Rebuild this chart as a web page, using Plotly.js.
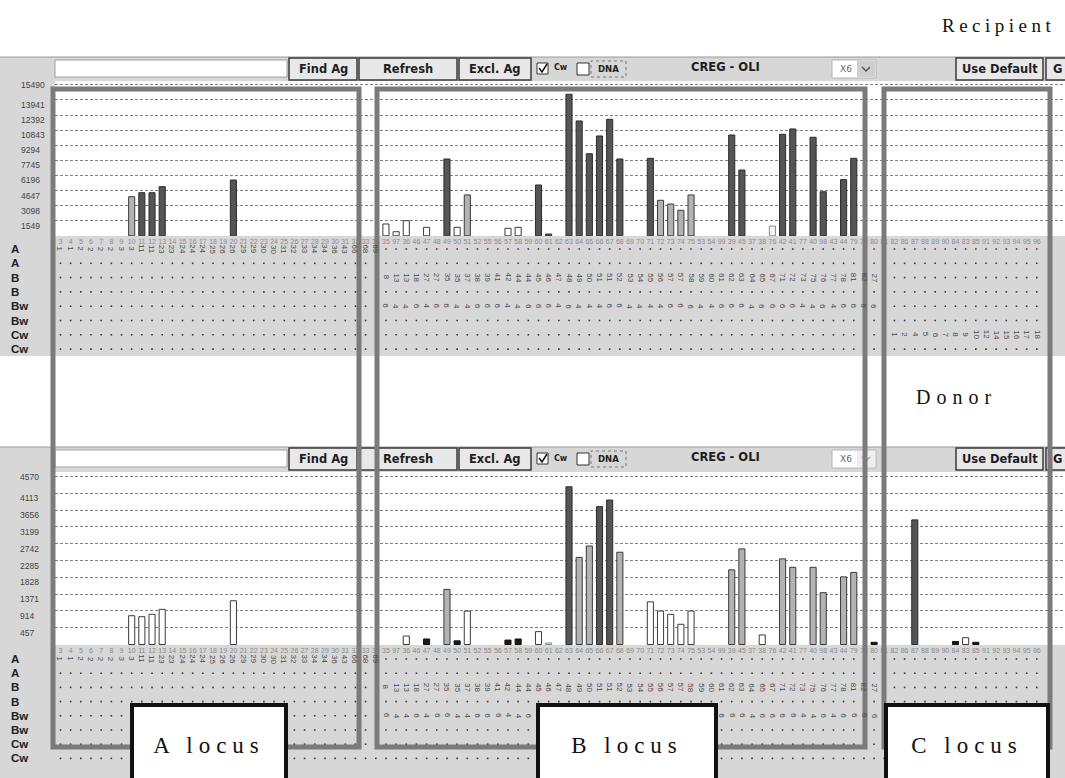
<!DOCTYPE html>
<html><head><meta charset="utf-8">
<script src="https://cdn.plot.ly/plotly-3.0.1.min.js"></script>
<style>html,body{margin:0;padding:0;background:#fff;}#chart{width:1065px;height:778px;}</style>
</head><body><div id="chart"></div>
<script>
// ---------------- DATA ----------------
const catsA = ["3","4","5","6","7","8","9","10","11","12","13","14","15","16","17","18","19","20","21","22","23","24","25","26","27","28","29","30","31","32","33","34"];
const catsB = ["35","97","36","46","47","48","49","50","51","52","55","56","57","58","59","60","61","62","63","64","65","66","67","68","69","70","71","72","73","74","75","53","54","99","39","45","37","38","76","42","41","77","40","98","43","44","79","78","80","81"];
const catsC = ["82","86","87","88","89","90","84","83","85","91","92","93","94","95","96"];
const categories = catsA.concat(catsB, catsC);

const recipientTicks = [1549,3098,4647,6196,7745,9294,10843,12392,13941,15490];
const donorTicks = [457,914,1371,1828,2285,2742,3199,3656,4113,4570];

const recipientAg = ["10","11","12","13","20","35","97","36","47","49","50","51","57","58","60","61","63","64","65","66","67","68","71","72","73","74","75","39","45","76","42","41","40","98","44","79"];
const recipientMFI = [4010,4420,4420,5040,5720,1210,420,1550,870,7880,870,4190,770,870,5210,180,14520,11780,8420,10240,11950,7880,7950,3640,3260,2620,4190,10340,6750,1000,10410,10960,10110,4520,5760,7950];
const recipientShade = ["light","dark","dark","dark","dark","open","open","open","open","dark","open","light","open","open","dark","dark","dark","dark","dark","dark","dark","dark","dark","light","light","light","light","dark","dark","faint","dark","dark","dark","dark","dark","dark"];

const donorAg = ["10","11","12","13","20","36","47","49","50","51","57","58","60","61","63","64","65","66","67","68","71","72","73","74","75","39","45","38","42","41","40","98","44","79","80","87","84","83","85"];
const donorMFI = [783,756,821,957,1190,230,150,1500,100,910,120,150,350,40,4290,2370,2680,3750,3930,2510,1160,910,820,550,910,2030,2600,260,2330,2100,2100,1410,1840,1960,60,3390,80,185,60];
const donorShade = ["open","open","open","open","open","open","black","light","black","open","black","black","open","faint","dark","light","light","dark","dark","light","open","open","open","open","open","light","light","open","light","light","light","light","light","light","black","dark","black","open","black"];

const tableRows = ["A","A","B","B","Bw","Bw","Cw","Cw"];
const aRowAg = ["1","1","2","2","2","2","3","3","11","11","23","23","24","24","24","25","26","26","29","29","30","30","31","32","33","34","34","36","43","66","68","69"];
const bRowAg = ["8","13","13","18","27","27","35","35","37","38","39","41","42","44","44","45","46","47","48","49","50","51","51","52","53","54","55","56","57","57","58","59","60","61","62","63","64","65","67","71","72","73","75","76","77","78","81","82","27"];
const bwRowAg = ["6","4","4","6","4","6","6","4","4","6","6","6","4","4","6","6","6","4","6","4","4","4","6","6","4","4","4","4","6","6","6","4","4","6","6","6","4","6","6","6","6","4","4","6","4","6","6","6","6"];
const cwRowAg = ["1","2","4","5","6","7","8","9","10","12","14","15","16","17","18"];

// ---------------- HELPERS ----------------
const W = 1065, H = 778;
const X = p => p / W;
const Y = p => 1 - p / H;
const fill = {dark:'#555555', light:'#b3b3b3', open:'#ffffff', black:'#1a1a1a', faint:'#f4f4f4'};
const edge = {dark:'#2c2c2c', light:'#3a3a3a', open:'#3a3a3a', black:'#111111', faint:'#8a8a8a'};
const rowText = [
  {row:0, cats:catsA, text:aRowAg},
  {row:2, cats:catsB.slice(0, bRowAg.length), text:bRowAg},
  {row:4, cats:catsB.slice(0, bwRowAg.length), text:bwRowAg},
  {row:6, cats:catsC, text:cwRowAg}
];

const shapes = [];
const annotations = [];
const rect = (x0,x1,y0,y1,fc,lc,lw,layer,dash) => shapes.push({type:'rect', xref:'paper', yref:'paper', x0:X(x0), x1:X(x1), y0:Y(y1), y1:Y(y0), fillcolor:fc, line:{color:lc||'rgba(0,0,0,0)', width:lw||0, dash:dash||'solid'}, layer:layer||'below'});
const txt = (x,y,t,opt) => annotations.push(Object.assign({xref:'paper', yref:'paper', x:X(x), y:Y(y), text:t, showarrow:false, xanchor:'center', yanchor:'middle', font:{family:'DejaVu Sans', size:12, color:'#222'}}, opt||{}));

// backgrounds
rect(0, W, 57, 356, '#d7d7d7');
rect(0, W, 447, 778, '#d7d7d7');
rect(55, W, 81, 236, '#ffffff');
rect(55, W, 472, 645, '#ffffff');

function toolbar(dy, disabled) {
  shapes.push({type:'line', xref:'paper', yref:'paper', x0:0, x1:1, y0:Y(57+dy), y1:Y(57+dy), line:{color:'#9a9a9a', width:1}, layer:'below'});
  rect(55, 287, 60+dy, 77+dy, '#ffffff', '#a0a0a0', 1);
  const btns = [[289,357,'Find Ag'],[359,457,'Refresh'],[459,531,'Excl. Ag'],[956,1043,'Use Default'],[1046,1080,'G']];
  btns.forEach(b => {
    rect(b[0], b[1], 58+dy, 80+dy, '#e8e8e8', '#3a3a3a', 1.5);
    txt(b[1] === 1080 ? 1057 : (b[0]+b[1])/2, 69+dy, '<b>'+b[2]+'</b>', {font:{family:'DejaVu Sans', size:11.5, color:'#1e1e1e'}});
  });
  rect(537, 548, 63+dy, 74+dy, '#ffffff', '#333', 1);
  shapes.push({type:'path', xref:'paper', yref:'paper', path:'M'+X(539)+','+Y(68+dy)+' L'+X(542)+','+Y(72+dy)+' L'+X(547)+','+Y(64+dy), line:{color:'#111', width:1.5}, layer:'below'});
  txt(552, 68+dy, '<b>Cw</b>', {xanchor:'left', font:{family:'DejaVu Sans', size:8, color:'#222'}});
  rect(577, 589, 63+dy, 75+dy, '#ffffff', '#333', 1);
  rect(591, 626, 61+dy, 77+dy, 'rgba(0,0,0,0)', '#777', 1, 'below', 'dot');
  txt(608, 69+dy, '<b>DNA</b>', {font:{family:'DejaVu Sans', size:8.5, color:'#222'}});
  txt(725, 67+dy, '<b>CREG - OLI</b>', {font:{family:'DejaVu Sans', size:11.5, color:'#1e1e1e'}});
  rect(832, 876, 60+dy, 78+dy, '#ffffff', '#b5b5b5', 1);
  txt(846, 69+dy, 'X6', {font:{family:'DejaVu Sans', size:9, color:'#666'}});
  rect(857, 875, 61+dy, 77+dy, disabled ? '#eeeeee' : '#cfcfcf', 'rgba(0,0,0,0)', 0);
  shapes.push({type:'path', xref:'paper', yref:'paper', path:'M'+X(862)+','+Y(67+dy)+' L'+X(866)+','+Y(71+dy)+' L'+X(870)+','+Y(67+dy), line:{color: disabled ? '#aaa' : '#555', width:1.5}, layer:'below'});
}
toolbar(0, false);
toolbar(390, true);

// locus frames
[[53,359],[377,865],[884,1050]].forEach(f => {
  shapes.push({type:'rect', xref:'paper', yref:'paper', x0:X(f[0]), x1:X(f[1]), y0:Y(747), y1:Y(89), line:{color:'#7b7b7b', width:5}, fillcolor:'rgba(0,0,0,0)', layer:'above'});
});

// y tick labels (left aligned, as in the software)
function yLabels(ticks, yref, xpx) {
  const top = Math.max.apply(null, ticks);
  ticks.forEach(v => annotations.push({xref:'paper', yref:yref, x:X(xpx), y:v, yshift: v === top ? 0 : -5, xanchor:'left', yanchor:'middle', text:String(v), showarrow:false, font:{family:'Liberation Sans', size:8.5, color:'#444'}}));
}
yLabels(recipientTicks, 'y', 19);
yLabels(donorTicks, 'y2', 18);

// table rows
function tableParts(xa, ya) {
  const textCells = new Set();
  rowText.forEach(rt => rt.cats.forEach((c,k) => {
    textCells.add(rt.row + '|' + c);
    annotations.push({xref:xa, yref:ya, x:categories.indexOf(c), y:rt.row, text:rt.text[k], textangle:90, showarrow:false, font:{family:'Liberation Sans', size:8, color:'#4a4a4a'}});
  }));
  tableRows.forEach((lab, r) => annotations.push({xref:'paper', yref:ya, x:X(9), y:r, xanchor:'left', text:'<b>'+lab+'</b>', showarrow:false, font:{family:'Liberation Sans', size:11.5, color:'#222'}}));
  const dx = [], dy = [];
  tableRows.forEach((lab, r) => categories.forEach(c => { if (!textCells.has(r+'|'+c)) { dx.push(c); dy.push(r); } }));
  return {type:'scatter', mode:'markers', x:dx, y:dy, xaxis:xa, yaxis:ya, marker:{symbol:'square', size:1.6, color:'#3a3a3a', line:{width:0}}, hoverinfo:'skip'};
}
const tableTop = tableParts('x', 'y3');
const tableBottom = tableParts('x2', 'y4');

// texts
txt(998, 25, '<span style="letter-spacing:4.5px">Recipient</span>', {font:{family:'Liberation Serif', size:19, color:'#111'}});
txt(956, 397, '<span style="letter-spacing:6px">Donor</span>', {font:{family:'Liberation Serif', size:20, color:'#111'}});
[[209,150,'A locus'],[627,174,'B locus'],[967,158,'C locus']].forEach(l => {
  annotations.push({xref:'paper', yref:'paper', x:X(l[0]), y:Y(703), xanchor:'center', yanchor:'top', width:l[1], height:76, borderpad:0, bgcolor:'#ffffff', bordercolor:'#111', borderwidth:4, showarrow:false, text:'<span style="letter-spacing:6px">'+l[2]+'</span>', font:{family:'Liberation Serif', size:23, color:'#111'}});
});

// bars
const recipBars = {type:'bar', x:recipientAg, y:recipientMFI, xaxis:'x', yaxis:'y', width:0.6, hoverinfo:'skip',
  marker:{color:recipientShade.map(s => fill[s]), line:{color:recipientShade.map(s => edge[s]), width:1}}};
const donorBars = {type:'bar', x:donorAg, y:donorMFI, xaxis:'x2', yaxis:'y2', width:0.6, hoverinfo:'skip',
  marker:{color:donorShade.map(s => fill[s]), line:{color:donorShade.map(s => edge[s]), width:1}}};

const xRange = [-0.54, 98.77];
const xCommon = {type:'category', categoryorder:'array', categoryarray:categories, range:xRange, domain:[X(55), 1],
  tickmode:'array', tickvals:categories, ticktext:categories, tickangle:0, ticks:'', showgrid:false, zeroline:false, showline:false,
  tickfont:{family:'Liberation Sans', size:7, color:'#8a8a8a'}, fixedrange:true};
const yGrid = {showgrid:true, gridcolor:'#808080', gridwidth:1, griddash:'3px,2px', zeroline:false, showline:false, showticklabels:false, ticks:'', fixedrange:true, tickmode:'array'};
const k1 = 15490/151, k2 = 4570/168;

const layout = {
  width:W, height:H, margin:{l:0, r:0, t:0, b:0}, paper_bgcolor:'#ffffff', plot_bgcolor:'rgba(0,0,0,0)', showlegend:false, bargap:0,
  xaxis: Object.assign({}, xCommon, {anchor:'y'}),
  xaxis2: Object.assign({}, xCommon, {anchor:'y2'}),
  yaxis: Object.assign({}, yGrid, {domain:[Y(236), Y(81)], range:[(235.8-236)*k1, (235.8-81)*k1], tickvals:recipientTicks, anchor:'x'}),
  yaxis2: Object.assign({}, yGrid, {domain:[Y(645), Y(472)], range:[(644.5-645)*k2, (644.5-472)*k2], tickvals:donorTicks, anchor:'x2'}),
  yaxis3: {domain:[Y(356), Y(236)], range:[(356-249)/14.3, (236-249)/14.3], anchor:'x', showgrid:false, zeroline:false, showticklabels:false, ticks:'', fixedrange:true},
  yaxis4: {domain:[0, Y(645)], range:[(778-659)/14.2, (645-659)/14.2], anchor:'x2', showgrid:false, zeroline:false, showticklabels:false, ticks:'', fixedrange:true},
  shapes: shapes,
  annotations: annotations
};

Plotly.newPlot('chart', [tableTop, tableBottom, recipBars, donorBars], layout, {displayModeBar:false, staticPlot:true});
</script></body></html>
